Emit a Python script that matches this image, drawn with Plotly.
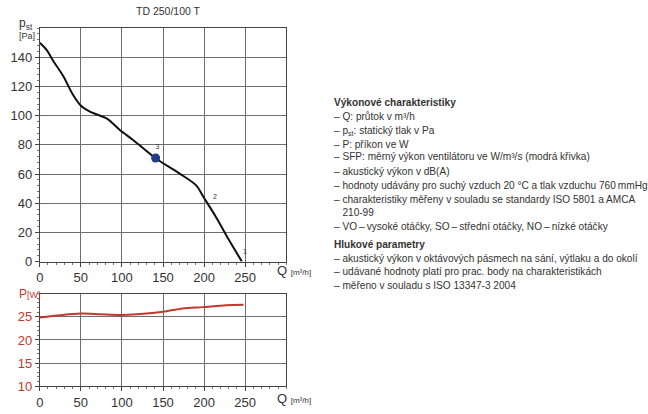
import plotly.graph_objects as go

# ---- data ----
q_pst = [0, 8.5, 17, 29, 39.5, 49.5, 61.6, 81.8, 97.8, 113.9, 140.9, 170.3, 190.4, 199.3, 214.6, 230.7, 246]
pst = [150, 145, 137, 126.7, 115.2, 107.2, 102.6, 98, 90, 83.2, 70.8, 60.3, 52.2, 44.2, 30.4, 14.4, 0]
q_pw = [0, 25, 49.5, 73.7, 99.9, 130, 150, 174, 198.4, 226.7, 248]
pw = [24.85, 25.35, 25.7, 25.55, 25.4, 25.7, 26.1, 26.8, 27.1, 27.5, 27.6]
work_q = [141]
work_p = [71]
pt_labels = ["1", "2", "3"]
pt_q = [247.5, 211, 141]
pt_p = [4, 42, 76]
x_ticks = [0, 50, 100, 150, 200, 250]
y_ticks_top = [0, 20, 40, 60, 80, 100, 120, 140]
y_ticks_bot = [10, 15, 20, 25]

T = "\u2009"
lines_text = [
    ("<b>Výkonové charakteristiky</b>", 104.6),
    ("– Q: průtok v m³/h", 119),
    ("– p<sub>st</sub>: statický tlak v Pa", 133.3),
    ("– P: příkon ve W", 147.7),
    ("– SFP: měrný výkon ventilátoru ve W/m³/s (modrá křivka)", 160),
    ("– akustický výkon v dB(A)", 174.4),
    ("– hodnoty udávány pro suchý vzduch 20 °C a tlak vzduchu 760" + T + "mmHg", 188.7),
    ("– charakteristiky měřeny v souladu se standardy ISO 5801 a AMCA", 203.1),
    ("   210-99", 216.4),
    ("– VO" + T + "–" + T + "vysoké otáčky, SO" + T + "–" + T + "střední otáčky, NO" + T + "–" + T + "nízké otáčky", 230.8),
    ("<b>Hlukové parametry</b>", 249.2),
    ("– akustický výkon v oktávových pásmech na sání, výtlaku a do okolí", 263.6),
    ("– udávané hodnoty platí pro prac. body na charakteristikách", 276.9),
    ("– měřeno v souladu s ISO 13347-3 2004", 291.3),
]

W, H = 648, 414
FONT = "Liberation Sans, Arial, sans-serif"
GRID = "#6e6e6e"
RED = "#c0392b"

fig = go.Figure()
fig.add_trace(go.Scatter(x=q_pst, y=pst, mode="lines", line=dict(color="#111", width=2, shape="spline", smoothing=0.8),
                         xaxis="x", yaxis="y", hoverinfo="skip"))
fig.add_trace(go.Scatter(x=work_q, y=work_p, mode="markers", marker=dict(color="#1f3c8f", size=9),
                         xaxis="x", yaxis="y"))
fig.add_trace(go.Scatter(x=pt_q, y=pt_p, mode="text", text=pt_labels, textfont=dict(size=7, color="#333", family=FONT),
                         textposition="top right", xaxis="x", yaxis="y"))
fig.add_trace(go.Scatter(x=q_pw, y=pw, mode="lines", line=dict(color=RED, width=2, shape="spline", smoothing=0.8),
                         xaxis="x2", yaxis="y2"))

xd = [36 / W, 284 / W]
common_x = dict(range=[0, 300], tickvals=x_ticks, showgrid=True, gridcolor=GRID, gridwidth=1,
                showline=True, linecolor="#444", mirror=True, zeroline=False,
                ticks="outside", ticklen=4, tickcolor="#444",
                minor=dict(dtick=10, ticks="outside", ticklen=2, tickcolor="#777"),
                tickfont=dict(size=13, color="#333", family=FONT), domain=xd)
common_y = dict(showgrid=True, gridcolor=GRID, gridwidth=1, showline=True, linecolor="#444", mirror=True,
                zeroline=False, ticks="outside", ticklen=4, tickcolor="#444")

fig.update_layout(
    width=W, height=H, margin=dict(l=0, r=0, t=0, b=0),
    paper_bgcolor="white", plot_bgcolor="white", showlegend=False,
    font=dict(family=FONT, color="#333"),
    xaxis=dict(**common_x, anchor="y"),
    yaxis=dict(**common_y, range=[0, 160], tickvals=y_ticks_top, domain=[1 - 266.7 / H, 1 - 28.7 / H], anchor="x",
               minor=dict(dtick=4, ticks="outside", ticklen=2, tickcolor="#777"),
               tickfont=dict(size=13, color="#333", family=FONT)),
    xaxis2=dict(**common_x, anchor="y2"),
    yaxis2=dict(**common_y, range=[10, 30], tickvals=y_ticks_bot, domain=[1 - 393.8 / H, 1 - 299.5 / H], anchor="x2",
                minor=dict(dtick=1, ticks="outside", ticklen=2, tickcolor="#777"),
                tickfont=dict(size=13, color=RED, family=FONT)),
)

ann = []
def A(text, x, y, size, color="#333", xanchor="left"):
    ann.append(dict(text=text, x=x / W, y=1 - y / H, xref="paper", yref="paper", showarrow=False,
                    xanchor=xanchor, yanchor="middle", font=dict(size=size, color=color, family=FONT)))

A("TD 250/100 T", 166, 11.5, 10.5, xanchor="center")
A("p<sub>st</sub>", 13, 24, 12)
A("[Pa]", 13, 37, 9)
A("Q <span style='font-size:8px'>[m³/h]</span>", 273, 276, 13)
A("P<span style='font-size:9px'>[W]</span>", 13, 300, 12, color=RED)
A("Q <span style='font-size:8px'>[m³/h]</span>", 273, 406, 13)
for t, y in lines_text:
    A(t, 330, y, 10.1)

fig.update_layout(annotations=ann)
fig.write_html("out.html")
